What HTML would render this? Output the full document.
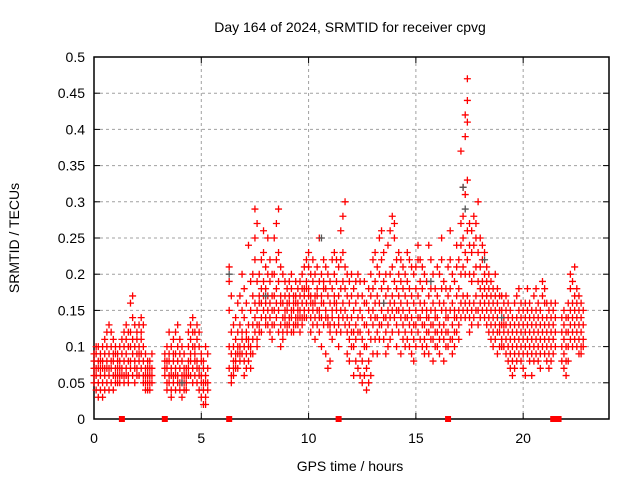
<!DOCTYPE html>
<html><head><meta charset="utf-8"><style>
html,body{margin:0;padding:0;background:#fff}
svg{display:block;font-family:"Liberation Sans","DejaVu Sans",sans-serif}
</style></head><body>
<svg id="chart" width="640" height="480" viewBox="0 0 640 480" xmlns="http://www.w3.org/2000/svg">
<rect width="640" height="480" fill="#fff"/>
<text x="350" y="32" font-size="14" text-anchor="middle">Day 164 of 2024, SRMTID for receiver cpvg</text>
<text transform="translate(19,238) rotate(-90)" font-size="14" text-anchor="middle">SRMTID / TECUs</text>
<text x="350" y="471" font-size="14" text-anchor="middle">GPS time / hours</text>
<g id="grid"></g>
<g id="axes"></g>
<g id="marks"></g>
</svg>
<script>
const xTicks=[0,5,10,15,20];
const yTicks=[0,0.05,0.1,0.15,0.2,0.25,0.3,0.35,0.4,0.45,0.5];
const yTickLabels=["0","0.05","0.1","0.15","0.2","0.25","0.3","0.35","0.4","0.45","0.5"];
const gapTimes=[1.3,3.3,6.3,11.4,16.5,21.4,21.65];
const grayTimes=[6.3,8.0,10.6,17.2,17.3,18.2,4.1,13.5,15.7,19.0];
const grayValues=[0.2,0.17,0.25,0.32,0.29,0.22,0.05,0.16,0.19,0.14];
const times=[0.0,0.1,0.2,0.3,0.4,0.5,0.6,0.7,0.8,0.9,1.0,1.1,1.2,1.3,1.4,1.5,1.6,1.7,1.8,1.9,2.0,2.1,2.2,2.3,2.4,2.5,2.6,2.7,
3.3,3.4,3.5,3.6,3.7,3.8,3.9,4.0,4.1,4.2,4.3,4.4,4.5,4.6,4.7,4.8,4.9,5.0,5.1,5.2,5.3,
6.3,6.4,6.5,6.6,6.7,6.8,6.9,7.0,7.1,7.2,7.3,7.4,7.5,7.6,7.7,7.8,7.9,8.0,8.1,8.2,8.3,8.4,8.5,8.6,8.7,8.8,8.9,
9.0,9.1,9.2,9.3,9.4,9.5,9.6,9.7,9.8,9.9,10.0,10.1,10.2,10.3,10.4,10.5,10.6,10.7,10.8,10.9,
11.0,11.1,11.2,11.3,11.4,11.5,11.6,11.7,11.8,11.9,12.0,12.1,12.2,12.3,12.4,12.5,12.6,12.7,12.8,12.9,
13.0,13.1,13.2,13.3,13.4,13.5,13.6,13.7,13.8,13.9,14.0,14.1,14.2,14.3,14.4,14.5,14.6,14.7,14.8,14.9,
15.0,15.1,15.2,15.3,15.4,15.5,15.6,15.7,15.8,15.9,16.0,16.1,16.2,16.3,16.4,16.5,16.6,16.7,16.8,16.9,
17.0,17.1,17.2,17.3,17.4,17.5,17.6,17.7,17.8,17.9,18.0,18.1,18.2,18.3,18.4,18.5,18.6,18.7,18.8,18.9,
19.0,19.1,19.2,19.3,19.4,19.5,19.6,19.7,19.8,19.9,20.0,20.1,20.2,20.3,20.4,20.5,20.6,20.7,20.8,20.9,
21.0,21.1,21.2,21.3,21.4,21.5,21.8,21.9,22.0,22.1,22.2,22.3,22.4,22.5,22.6,22.7,22.8];
const values=[
[.06,.08,.09,.07,.05],[.07,.09,.06,.1,.04],[.05,.08,.07,.1,.03],[.06,.09,.04,.07,.08],[.05,.07,.08,.1,.03],
[.06,.11,.07,.09,.04],[.07,.12,.08,.05,.1],[.06,.09,.13,.07,.04],[.07,.1,.05,.08,.12],[.06,.08,.11,.04,.09],
[.05,.07,.09,.06,.1],[.06,.08,.05,.07,.09],[.05,.07,.06,.08,.1],[.07,.09,.11,.06],[.06,.08,.12,.1,.05],
[.07,.09,.11,.06,.13],[.06,.08,.1,.05,.12],[.07,.1,.12,.16,.08],[.06,.09,.17,.11,.14],[.07,.1,.13,.08,.05],
[.06,.09,.12,.07,.11],[.08,.1,.13,.06,.09],[.07,.11,.14,.09,.12],[.06,.08,.1,.13,.05],[.05,.07,.09,.04,.06],
[.04,.06,.08,.05,.07],[.05,.07,.06,.08,.04],[.06,.05,.07,.09],
[.07,.09,.06,.08],[.05,.08,.1,.07,.04],[.06,.09,.12,.05,.08],[.04,.07,.1,.06,.03],[.05,.08,.11,.06,.09],
[.04,.06,.09,.07,.12],[.05,.08,.06,.1,.13],[.04,.07,.09,.05,.11],[.05,.08,.06,.03,.1],[.04,.06,.09,.05,.07],
[.05,.07,.04,.06],[.07,.1,.12,.08,.06],[.08,.11,.13,.09,.06],[.07,.1,.14,.12,.05],[.06,.09,.12,.08,.1],
[.05,.08,.11,.13,.07],[.04,.07,.1,.06,.12],[.03,.06,.09,.05,.08],[.02,.05,.08,.04,.07],[.03,.06,.1,.05,.02],[.04,.07,.05,.09],
[.07,.1,.15,.19,.21],[.06,.09,.12,.17,.05],[.07,.1,.08,.13,.06],[.08,.11,.09,.14,.07],[.09,.12,.16,.1,.07],
[.08,.1,.13,.17,.09],[.09,.12,.15,.11,.2],[.08,.1,.14,.18,.06],[.09,.12,.16,.07,.11],[.08,.11,.24,.13,.1],
[.07,.1,.15,.09,.19],[.09,.13,.17,.2,.11],[.12,.16,.22,.25,.29,.14],[.11,.15,.19,.27,.13,.1],[.13,.17,.2,.16,.12],
[.14,.18,.22,.16,.12],[.15,.19,.23,.26,.17],[.14,.18,.21,.16,.13],[.13,.17,.2,.25,.15],[.12,.16,.19,.22,.14],
[.11,.15,.2,.17,.13],[.13,.17,.25,.2,.15],[.14,.18,.22,.27,.16],[.15,.19,.29,.23,.12],[.13,.17,.21,.16,.1],
[.12,.16,.2,.14,.11],[.14,.17,.15,.13,.19],
[.13,.16,.18,.15,.12],[.14,.17,.19,.16,.13],[.12,.15,.18,.14,.2],[.13,.16,.15,.17,.12],[.14,.17,.19,.16,.13],
[.13,.15,.18,.16,.14],[.12,.14,.17,.15,.19],[.14,.16,.2,.18,.13],[.15,.18,.21,.17,.14],[.16,.19,.22,.18,.14],
[.15,.18,.21,.23,.17],[.14,.17,.2,.16,.12],[.13,.16,.19,.15,.22],[.14,.17,.2,.16,.11],[.15,.18,.21,.17,.13],
[.12,.15,.19,.14,.25],[.14,.17,.2,.16,.1],[.16,.19,.22,.18,.13],[.15,.18,.21,.14,.09],[.14,.17,.2,.13,.07],
[.13,.16,.19,.12,.08],[.15,.18,.22,.14,.11],[.17,.2,.23,.16,.13],[.16,.19,.22,.15,.12],[.14,.17,.21,.13,.1],
[.15,.18,.22,.26,.12],[.16,.19,.23,.28,.14],[.15,.18,.21,.3,.13],[.14,.17,.2,.12,.09],[.13,.16,.19,.11,.08],
[.14,.17,.2,.12,.1],[.12,.15,.18,.1,.06],[.13,.16,.19,.11,.08],[.14,.17,.2,.12,.07],[.12,.15,.19,.09,.06],
[.11,.14,.17,.08,.05],[.13,.16,.19,.1,.06],[.1,.13,.16,.07,.04],[.12,.15,.18,.08,.05],[.14,.17,.2,.11,.06],
[.15,.18,.22,.13,.09],[.16,.19,.23,.14,.11],[.14,.17,.21,.12,.09],[.13,.16,.2,.11,.25],[.15,.18,.22,.13,.26],
[.16,.19,.23,.14,.11],[.14,.17,.2,.12,.09],[.15,.18,.24,.13,.1],[.16,.2,.26,.14,.11],[.17,.21,.28,.15,.12],
[.16,.19,.25,.14,.27],[.15,.18,.22,.13,.1],[.17,.2,.23,.15,.12],[.16,.19,.22,.14,.09],[.15,.18,.21,.13,.11],
[.14,.17,.2,.12,.1],[.16,.19,.23,.14,.11],[.15,.18,.22,.13,.1],[.14,.17,.21,.12,.09],[.13,.16,.2,.11,.08],
[.15,.18,.21,.13,.1],[.14,.17,.22,.12,.24],[.16,.19,.22,.14,.11],[.15,.18,.21,.13,.1],[.13,.16,.2,.11,.09],
[.12,.15,.19,.1,.14],[.14,.17,.24,.12,.09],[.15,.18,.22,.13,.11],[.13,.16,.2,.11,.08],[.12,.15,.18,.1,.14],
[.14,.17,.21,.12,.1],[.13,.16,.2,.11,.09],[.15,.18,.22,.25,.12],[.13,.16,.19,.11,.08],[.12,.15,.18,.1,.14],
[.14,.17,.21,.12,.1],[.15,.18,.22,.26,.11],[.13,.16,.2,.11,.09],[.12,.15,.19,.1,.14],[.14,.17,.21,.24,.12],
[.15,.18,.22,.13,.11],[.16,.2,.24,.27,.37,.14],[.17,.21,.25,.28,.32,.15],[.16,.2,.23,.31,.39,.42,.14],[.17,.22,.26,.33,.41,.44,.47,.15],
[.16,.2,.24,.27,.14,.12],[.15,.19,.23,.26,.13],[.16,.2,.24,.28,.14],[.17,.21,.25,.27,.15],[.15,.19,.23,.3,.13],
[.16,.18,.21,.25,.14],[.17,.19,.22,.24,.15],[.16,.18,.2,.23,.14],[.15,.17,.19,.21,.13],[.14,.16,.18,.2,.12],
[.13,.15,.17,.19,.11],[.12,.14,.16,.18,.1],[.13,.15,.17,.2,.11],[.12,.14,.16,.18,.09],[.13,.15,.17,.12,.1],
[.11,.13,.15,.17,.1],[.12,.14,.16,.1,.13],[.13,.15,.17,.11,.09],[.12,.14,.16,.1,.08],[.11,.13,.15,.09,.07],
[.1,.12,.14,.08,.06],[.11,.13,.16,.09,.07],[.12,.14,.17,.1,.08],[.13,.15,.18,.11,.09],[.12,.14,.16,.1,.08],
[.11,.13,.15,.09,.07],[.12,.14,.16,.1,.06],[.13,.15,.18,.11,.09],[.12,.14,.16,.1,.08],[.11,.13,.15,.09,.06],
[.12,.14,.17,.1,.08],[.13,.15,.18,.11,.09],[.12,.14,.16,.1,.08],[.11,.13,.15,.09,.07],[.12,.14,.17,.19,.1],
[.11,.13,.16,.18,.09],[.12,.14,.16,.1,.08],[.11,.13,.15,.09,.07],[.12,.14,.16,.1,.08],[.11,.13,.15,.09],
[.12,.14,.16,.1],[.1,.12,.14,.08],[.11,.13,.15,.09,.07],[.1,.12,.14,.08,.06],[.12,.14,.16,.1,.08],
[.13,.15,.18,.2,.11],[.14,.16,.19,.12,.1],[.13,.15,.17,.21,.11],[.14,.16,.18,.12,.1],[.13,.15,.17,.11,.09],
[.12,.14,.16,.1,.09],[.11,.13,.15,.1]];

const L=94,R=609,T=57,B=419,XMAX=24,YMAX=0.5;
function xs(t){return L+(R-L)*t/XMAX;}
function ys(v){return B-(B-T)*v/YMAX;}
const NS="http://www.w3.org/2000/svg";
function mk(tag,attrs,parent){const e=document.createElementNS(NS,tag);for(const k in attrs)e.setAttribute(k,attrs[k]);parent.appendChild(e);return e;}
const grid=document.getElementById('grid'),axes=document.getElementById('axes'),marks=document.getElementById('marks');

yTicks.forEach((v,i)=>{
  const y=ys(v);
  if(i>0&&i<yTicks.length-1){
    const g=mk('line',{x1:L,x2:R,y1:y,y2:y,stroke:'#a0a0a0','stroke-dasharray':'3,3','stroke-width':1},grid);
    
    
  }
  mk('line',{x1:L,x2:L+6,y1:y,y2:y,stroke:'#000'},axes);
  mk('line',{x1:R-6,x2:R,y1:y,y2:y,stroke:'#000'},axes);
  const t=mk('text',{x:L-9,y:y+5,'font-size':14,'text-anchor':'end'},axes);
  t.textContent=yTickLabels[i];
  
  
});
xTicks.forEach(v=>{
  const x=xs(v);
  if(v>0){
    const g=mk('line',{x1:x,x2:x,y1:T,y2:B,stroke:'#a0a0a0','stroke-dasharray':'3,3','stroke-width':1},grid);
    
    
  }
  mk('line',{x1:x,x2:x,y1:B,y2:B-6,stroke:'#000'},axes);
  mk('line',{x1:x,x2:x,y1:T,y2:T+6,stroke:'#000'},axes);
  const t=mk('text',{x:x,y:B+24,'font-size':14,'text-anchor':'middle'},axes);
  t.textContent=String(v);
  
  
});
const frame=mk('rect',{x:L,y:T,width:R-L,height:B-T,fill:'none',stroke:'#000','stroke-width':1.5},axes);



function plus(x,y,color){
  return mk('path',{d:`M${x-3.5},${y}h7M${x},${y-3.5}v7`,stroke:color,'stroke-width':1.3,fill:'none'},marks);
}
times.forEach((t,i)=>{
  values[i].forEach(v=>{
    const p=plus(xs(t),ys(v),'#ff0000');
    
    
  });
});
grayTimes.forEach((t,i)=>{
  const p=plus(xs(t),ys(grayValues[i]),'#555');
  
  
});
gapTimes.forEach(t=>{
  const r=mk('rect',{x:xs(t)-3,y:B-3,width:6,height:6,fill:'#ff0000'},marks);
  
  
});
</script>
</body></html>
